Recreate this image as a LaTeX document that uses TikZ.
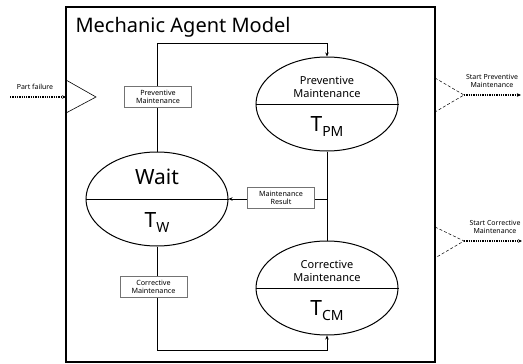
\documentclass[tikz,border=0pt]{standalone}
\usepackage{fontspec}
\setmainfont{Noto Sans}
\usetikzlibrary{shapes.geometric,arrows.meta}
\newcommand{\ellw}{142pt}
\newcommand{\ellh}{94pt}
\newcommand{\tagcolor}{black!55!white}
\newcommand{\tsub}[1]{{\fontsize{21}{21}\selectfont T}\raisebox{-5pt}{\fontsize{14}{14}\selectfont #1}}

\begin{document}
\begin{tikzpicture}[x=1pt, y=-1pt, >={Stealth[length=4pt,width=3.5pt]},
    state/.style={ellipse, draw, line width=1pt, minimum width=\ellw, minimum height=\ellh, inner sep=0pt},
    tagbox/.style={draw=\tagcolor, fill=white, minimum width=67pt, minimum height=21pt, inner sep=1pt, align=center, font=\fontsize{7.2}{8}\selectfont},
    midtext/.style={align=center, font=\fontsize{11}{13}\selectfont},
    smalltext/.style={align=center, font=\fontsize{7}{8}\selectfont},
    link/.style={line width=1pt},
    flow/.style={densely dotted, line width=1.3pt}]
        \useasboundingbox (0,0) rectangle (523,364);

        % agent box
        \draw[line width=1.6pt] (66,7) rectangle (435,362);
        \node[anchor=west, font=\fontsize{20}{22}\selectfont] (title) at (72,27) {Mechanic Agent Model};

        % states
        \node[state] (wait) at (157,199) {};
        \node[state] (pm) at (327,104) {};
        \node[state] (cm) at (327,288) {};
        \draw[line width=1pt] (wait.west) -- (wait.east);
        \draw[line width=1pt] (pm.west) -- (pm.east);
        \draw[line width=1pt] (cm.west) -- (cm.east);

        \node[font=\fontsize{21}{22}\selectfont] (waitname) at (157,177) {Wait};
        \node (waittime) at (157,223) {\tsub{W}};
        \node[midtext] (pmname) at (327,87) {Preventive\\Maintenance};
        \node (pmtime) at (327,127) {\tsub{PM}};
        \node[midtext] (cmname) at (327,271) {Corrective\\Maintenance};
        \node (cmtime) at (327,311) {\tsub{CM}};

        % transitions
        \coordinate (toprail) at (0,43);
        \coordinate (botrail) at (0,350);
        \draw[link, ->] (wait.north) -- (wait.north |- toprail) -| (pm.north);
        \draw[link, ->] (wait.south) -- (wait.south |- botrail) -| (cm.south);
        \draw[link] (pm.south) -- (cm.north);
        \draw[link, ->] (pm.south |- wait.east) -- (wait.east);

        \node[tagbox] (pmtag) at (158,96.5) {Preventive\\Maintenance};
        \node[tagbox] (cmtag) at (153.5,286.5) {Corrective\\Maintenance};
        \node[tagbox] (restag) at (281,198) {Maintenance\\Result};

        % ports
        \coordinate (inA) at (66,80);
        \coordinate (inB) at (66,113);
        \coordinate (inP) at (96,97);
        \draw[line width=0.6pt] (inA) -- (inP) -- (inB);
        \coordinate (failsrc) at (10,97);
        \draw[flow, ->] (failsrc) -- (inA |- inP);
        \node[smalltext] (faillabel) at (35,86.5) {Part failure};

        \coordinate (outA) at (435,78);
        \coordinate (outB) at (435,112);
        \coordinate (outP) at (464,95);
        \draw[densely dashed, line width=0.5pt] (outA) -- (outP) -- (outB);
        \coordinate (outPend) at (521,95);
        \draw[flow, ->] (outP) -- (outPend);
        \node[smalltext] (outPlabel) at (492,80.5) {Start Preventive\\Maintenance};

        \coordinate (outC) at (435,227);
        \coordinate (outD) at (435,258);
        \coordinate (outQ) at (464,241);
        \draw[densely dashed, line width=0.5pt] (outC) -- (outQ) -- (outD);
        \coordinate (outQend) at (522,241);
        \draw[flow, ->] (outQ) -- (outQend);
        \node[smalltext] (outQlabel) at (495,227) {Start Corrective\\Maintenance};
\end{tikzpicture}
\end{document}
